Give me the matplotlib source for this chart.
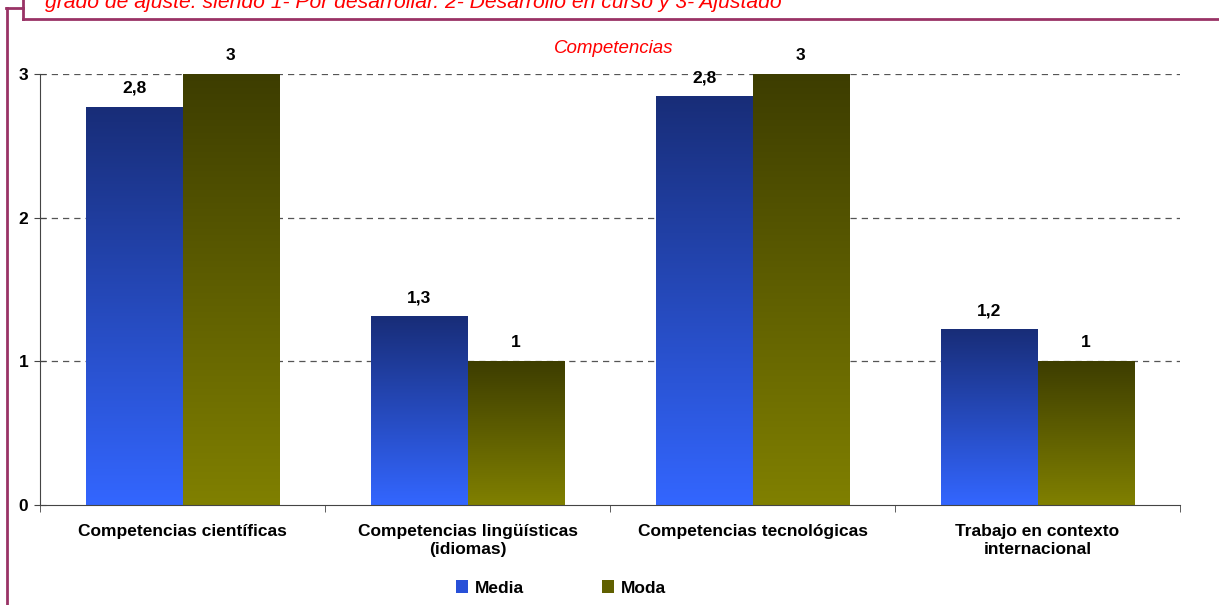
import numpy as np
import matplotlib.pyplot as plt
from matplotlib.patches import Patch
from matplotlib.lines import Line2D

plt.rcParams['font.family'] = ['Liberation Sans', 'DejaVu Sans']

categories = ["Competencias científicas", "Competencias lingüísticas\n(idiomas)",
              "Competencias tecnológicas", "Trabajo en contexto\ninternacional"]
media = [2.77, 1.31, 2.84, 1.22]
moda = [3, 1, 3, 1]
media_labels = ["2,8", "1,3", "2,8", "1,2"]
moda_labels = ["3", "1", "3", "1"]

W, H = 1219, 605
fig = plt.figure(figsize=(W / 100, H / 100), dpi=100)
ax = fig.add_axes([40 / W, (H - 505) / H, 1140 / W, 431 / H])

def grad_bar(x0, x1, h, top, bottom):
    top = np.array(top) / 255.0
    bottom = np.array(bottom) / 255.0
    t = np.linspace(0, 1, 256)[:, None]
    img = (top[None, :] * (1 - t) + bottom[None, :] * t)[:, None, :]
    ax.imshow(img, extent=(x0, x1, 0, h), aspect='auto', origin='upper',
              interpolation='bilinear', zorder=2)

fs = 12.5
bw = 0.337
x = np.arange(len(categories))
for i in x:
    grad_bar(i - bw, i, media[i], (0x18, 0x2D, 0x78), (0x33, 0x66, 0xFF))
    grad_bar(i, i + bw, moda[i], (0x3D, 0x3D, 0x00), (0x80, 0x80, 0x00))
    ax.text(i - bw / 2, media[i] + 0.13, media_labels[i], ha='center', va='center',
            fontsize=fs, fontweight='bold')
    ax.text(i + bw / 2, moda[i] + 0.13, moda_labels[i], ha='center', va='center',
            fontsize=fs, fontweight='bold')

ax.set_xlim(-0.5, len(categories) - 0.5)
ax.set_ylim(0, 3)
for yv in [1, 2, 3]:
    ax.axhline(yv, color='#555555', lw=0.9, ls=(0, (5, 4)), zorder=1)

for s in ['top', 'right']:
    ax.spines[s].set_visible(False)
ax.spines['left'].set_color('#444444')
ax.spines['bottom'].set_color('#444444')

ax.set_yticks([0, 1, 2, 3])
ax.set_yticklabels(["0", "1", "2", "3"], fontsize=fs, fontweight='bold')
ax.tick_params(axis='y', length=9, direction='inout', color='#444444', pad=4)
ax.set_xticks(x)
ax.set_xticklabels(categories, fontsize=fs, fontweight='bold')
ax.tick_params(axis='x', length=0, pad=14)
ax.set_xticks(np.arange(-0.5, len(categories)), minor=True)
ax.tick_params(axis='x', which='minor', length=5, color='#444444')

ax.set_title("Competencias", color='#FF0000', style='italic', fontsize=13.5, pad=15, x=0.503)

handles = [Patch(facecolor='#2850D8', edgecolor='none'),
           Patch(facecolor='#606000', edgecolor='none')]
leg = fig.legend(handles, ["Media", "Moda"], loc='center', bbox_to_anchor=(561 / W, 1 - 588 / H),
                 ncol=2, frameon=False, prop={'weight': 'bold', 'size': fs},
                 handlelength=0.7, handleheight=0.7, handletextpad=0.4, columnspacing=4.5)

# frame decoration
maroon = '#993366'
fig.add_artist(Line2D([7 / W, 7 / W], [0, 1 - 8 / H], transform=fig.transFigure, color=maroon, lw=2))
fig.add_artist(Line2D([6 / W, 23 / W], [1 - 8 / H, 1 - 8 / H], transform=fig.transFigure, color=maroon, lw=2))
fig.add_artist(Line2D([23 / W, 23 / W], [1 - 19 / H, 1.01], transform=fig.transFigure, color=maroon, lw=2))
fig.add_artist(Line2D([23 / W, 1.01], [1 - 19 / H, 1 - 19 / H], transform=fig.transFigure, color=maroon, lw=2))
fig.text(45 / W, 1 - 8 / H, "grado de ajuste. siendo 1- Por desarrollar. 2- Desarrollo en curso y 3- Ajustado",
         color='#FF0000', style='italic', fontsize=15.2, va='baseline', ha='left')

fig.savefig("out.png", dpi=100)
